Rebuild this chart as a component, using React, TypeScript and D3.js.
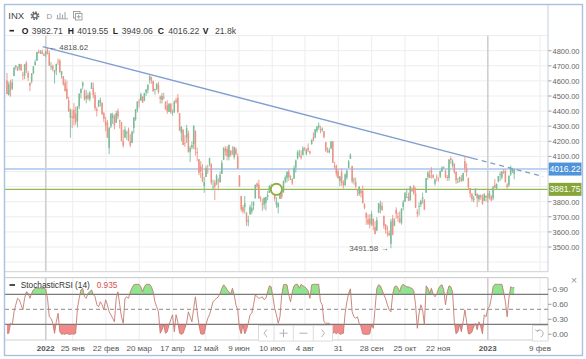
import React from "react";
import * as d3 from "d3";

// [date, open, high, low, close]
const candles: [string, number, number, number, number][] = [
  ["2021-12-01",4602.8,4652.9,4510.3,4513.04],["2021-12-02",4504.7,4595.5,4504.7,4577.10],["2021-12-03",4589.5,4608.0,4495.1,4538.43],
  ["2021-12-06",4548.4,4612.6,4540.5,4591.67],["2021-12-07",4631.97,4694.04,4631.97,4686.75],["2021-12-08",4690.86,4705.06,4674.52,4701.21],
  ["2021-12-09",4691.0,4695.26,4665.98,4667.45],["2021-12-10",4687.6,4713.6,4670.2,4712.02],["2021-12-13",4710.3,4710.3,4667.6,4668.97],
  ["2021-12-14",4642.0,4660.0,4606.5,4634.09],["2021-12-15",4636.5,4712.6,4611.2,4709.85],["2021-12-16",4719.1,4731.99,4651.9,4668.67],
  ["2021-12-17",4652.5,4666.7,4600.2,4620.64],["2021-12-20",4587.9,4587.9,4531.1,4568.02],["2021-12-21",4594.96,4651.14,4583.16,4649.23],
  ["2021-12-22",4650.36,4697.67,4645.53,4696.56],["2021-12-23",4703.96,4740.74,4703.96,4725.79],["2021-12-27",4733.99,4791.49,4733.99,4791.19],
  ["2021-12-28",4795.49,4807.02,4780.04,4786.35],["2021-12-29",4788.64,4804.06,4778.08,4793.06],["2021-12-30",4794.23,4808.93,4775.33,4778.73],
  ["2021-12-31",4775.21,4786.83,4765.75,4766.18],
  ["2022-01-03",4778.14,4796.64,4758.17,4796.56],["2022-01-04",4804.51,4818.62,4774.27,4793.54],["2022-01-05",4787.99,4797.70,4699.44,4700.58],
  ["2022-01-06",4693.39,4725.01,4671.26,4696.05],["2022-01-07",4697.66,4707.95,4662.74,4677.03],["2022-01-10",4655.34,4673.02,4582.24,4670.29],
  ["2022-01-11",4669.14,4714.13,4638.27,4713.07],["2022-01-12",4728.59,4748.83,4706.71,4726.35],["2022-01-13",4733.56,4744.13,4650.29,4659.03],
  ["2022-01-14",4637.99,4665.13,4614.75,4662.85],["2022-01-18",4632.24,4632.24,4568.70,4577.11],["2022-01-19",4588.03,4611.55,4530.20,4532.76],
  ["2022-01-20",4547.35,4602.11,4477.95,4482.73],["2022-01-21",4471.38,4494.52,4395.34,4397.94],["2022-01-24",4356.32,4417.35,4222.62,4410.13],
  ["2022-01-25",4366.64,4411.01,4287.11,4356.45],["2022-01-26",4408.43,4453.23,4304.80,4349.93],["2022-01-27",4380.58,4428.74,4309.50,4326.51],
  ["2022-01-28",4336.19,4432.72,4292.46,4431.85],["2022-01-31",4431.79,4516.89,4414.02,4515.55],
  ["2022-02-01",4519.57,4550.49,4483.53,4546.54],["2022-02-02",4566.39,4595.31,4544.32,4589.38],["2022-02-03",4535.41,4542.88,4470.39,4477.44],
  ["2022-02-04",4482.79,4539.66,4451.50,4500.53],["2022-02-07",4505.75,4521.86,4471.47,4483.87],["2022-02-08",4480.02,4531.32,4465.40,4521.54],
  ["2022-02-09",4547.00,4590.03,4547.00,4587.18],["2022-02-10",4553.24,4588.92,4484.31,4504.08],["2022-02-11",4506.27,4526.33,4401.41,4418.64],
  ["2022-02-14",4412.61,4426.22,4364.84,4401.67],["2022-02-15",4429.28,4472.77,4429.28,4471.07],["2022-02-16",4455.75,4489.55,4429.68,4475.01],
  ["2022-02-17",4456.06,4456.06,4373.81,4380.26],["2022-02-18",4384.57,4394.60,4327.22,4348.87],["2022-02-22",4332.74,4362.12,4267.11,4304.76],
  ["2022-02-23",4324.93,4341.51,4221.51,4225.50],["2022-02-24",4155.77,4294.73,4114.65,4288.70],["2022-02-25",4298.38,4385.34,4286.83,4384.65],
  ["2022-02-28",4354.17,4388.84,4315.12,4373.94],
  ["2022-03-01",4363.14,4378.45,4279.54,4306.26],["2022-03-02",4322.56,4401.48,4322.56,4386.54],["2022-03-03",4401.31,4416.78,4345.56,4363.49],
  ["2022-03-04",4342.12,4342.12,4284.98,4328.87],["2022-03-07",4327.01,4327.01,4199.85,4201.09],["2022-03-08",4202.66,4276.94,4157.87,4170.70],
  ["2022-03-09",4223.10,4299.40,4223.10,4277.88],["2022-03-10",4252.55,4268.28,4209.80,4259.52],["2022-03-11",4279.50,4291.01,4200.49,4204.31],
  ["2022-03-14",4202.75,4247.57,4161.72,4173.11],["2022-03-15",4188.82,4271.05,4187.90,4262.45],["2022-03-16",4288.14,4358.90,4251.99,4357.86],
  ["2022-03-17",4345.11,4412.67,4335.65,4411.67],["2022-03-18",4407.34,4465.40,4390.57,4463.12],["2022-03-21",4462.40,4481.75,4424.30,4461.18],
  ["2022-03-22",4469.10,4522.00,4469.10,4511.61],["2022-03-23",4493.10,4501.07,4455.81,4456.24],["2022-03-24",4469.98,4520.58,4465.17,4520.16],
  ["2022-03-25",4522.91,4546.03,4501.07,4543.06],["2022-03-28",4541.09,4575.65,4517.69,4575.52],["2022-03-29",4602.86,4637.30,4581.60,4631.60],
  ["2022-03-30",4624.20,4627.77,4581.32,4602.45],["2022-03-31",4599.02,4603.07,4530.41,4530.41],
  ["2022-04-01",4540.32,4548.70,4507.57,4545.86],["2022-04-04",4547.97,4583.50,4539.21,4582.64],["2022-04-05",4572.45,4593.45,4514.17,4525.12],
  ["2022-04-06",4494.17,4503.94,4450.04,4481.15],["2022-04-07",4474.65,4521.16,4450.30,4500.21],["2022-04-08",4494.15,4520.41,4474.60,4488.28],
  ["2022-04-11",4462.64,4464.35,4408.38,4412.53],["2022-04-12",4437.59,4471.00,4381.34,4397.45],["2022-04-13",4394.30,4453.92,4392.70,4446.59],
  ["2022-04-14",4449.12,4452.77,4381.14,4392.59],["2022-04-18",4385.63,4410.31,4370.30,4391.69],["2022-04-19",4390.63,4471.03,4390.63,4462.21],
  ["2022-04-20",4472.26,4488.29,4448.76,4459.45],["2022-04-21",4489.17,4512.94,4384.47,4393.66],["2022-04-22",4385.83,4385.83,4267.62,4271.78],
  ["2022-04-25",4255.34,4299.02,4200.82,4296.12],["2022-04-26",4278.14,4278.14,4175.04,4175.20],["2022-04-27",4186.52,4240.71,4162.90,4183.96],
  ["2022-04-28",4222.58,4308.45,4188.63,4287.50],["2022-04-29",4253.75,4269.68,4124.28,4131.93],
  ["2022-05-02",4130.61,4169.81,4062.51,4155.38],["2022-05-03",4159.78,4200.10,4147.08,4175.48],["2022-05-04",4181.18,4307.66,4148.91,4300.17],
  ["2022-05-05",4270.43,4270.43,4106.01,4146.87],["2022-05-06",4128.17,4157.69,4067.91,4123.34],["2022-05-09",4081.27,4081.27,3975.48,3991.24],
  ["2022-05-10",4035.18,4068.82,3958.17,4001.05],["2022-05-11",3990.08,4049.09,3928.82,3935.18],["2022-05-12",3903.95,3964.80,3858.87,3930.08],
  ["2022-05-13",3963.90,4038.88,3963.90,4023.89],["2022-05-16",4013.02,4046.46,3983.99,4008.01],["2022-05-17",4052.00,4090.72,4033.93,4088.85],
  ["2022-05-18",4051.98,4051.98,3911.91,3923.68],["2022-05-19",3899.00,3945.96,3876.58,3900.79],["2022-05-20",3927.76,3943.42,3810.32,3901.36],
  ["2022-05-23",3919.42,3981.88,3909.04,3973.75],["2022-05-24",3942.94,3955.68,3875.13,3941.48],["2022-05-25",3929.59,3999.33,3925.03,3978.73],
  ["2022-05-26",3984.60,4075.14,3984.60,4057.84],["2022-05-27",4077.43,4158.49,4077.43,4158.24],["2022-05-31",4151.09,4168.34,4104.88,4132.15],
  ["2022-06-01",4149.78,4166.54,4073.85,4101.23],["2022-06-02",4095.41,4177.51,4074.37,4176.82],["2022-06-03",4137.57,4142.67,4098.67,4108.54],
  ["2022-06-06",4134.72,4168.78,4109.18,4121.43],["2022-06-07",4096.47,4164.86,4080.19,4160.68],["2022-06-08",4147.12,4160.14,4107.20,4115.77],
  ["2022-06-09",4101.65,4119.10,4017.17,4017.82],["2022-06-10",3974.39,3974.39,3900.16,3900.86],["2022-06-13",3838.15,3838.15,3734.30,3749.63],
  ["2022-06-14",3763.52,3778.18,3722.30,3735.48],["2022-06-15",3764.05,3837.56,3722.30,3789.99],["2022-06-16",3728.18,3728.18,3639.77,3666.77],
  ["2022-06-17",3665.90,3707.71,3636.87,3674.84],["2022-06-21",3715.31,3779.65,3715.31,3764.79],["2022-06-22",3733.89,3801.79,3717.69,3759.89],
  ["2022-06-23",3774.71,3802.58,3743.52,3795.73],["2022-06-24",3821.75,3913.65,3821.75,3911.74],["2022-06-27",3920.76,3927.72,3889.66,3900.11],
  ["2022-06-28",3913.00,3945.86,3820.14,3821.55],["2022-06-29",3825.09,3836.50,3799.02,3818.83],["2022-06-30",3785.99,3818.99,3738.67,3785.38],
  ["2022-07-01",3781.00,3829.82,3752.10,3825.33],["2022-07-05",3792.61,3832.19,3742.06,3831.39],["2022-07-06",3831.98,3870.91,3809.37,3845.08],
  ["2022-07-07",3858.85,3910.63,3858.85,3902.62],["2022-07-08",3888.26,3918.50,3869.34,3899.38],["2022-07-11",3880.94,3880.94,3847.22,3854.43],
  ["2022-07-12",3851.95,3873.41,3802.36,3818.80],["2022-07-13",3779.67,3829.44,3759.07,3801.78],["2022-07-14",3763.99,3796.41,3721.56,3790.38],
  ["2022-07-15",3818.00,3863.62,3817.18,3863.16],["2022-07-18",3883.79,3902.44,3818.63,3830.85],["2022-07-19",3860.73,3939.81,3860.73,3936.69],
  ["2022-07-20",3935.32,3974.13,3922.03,3959.90],["2022-07-21",3955.47,3999.29,3927.64,3998.95],["2022-07-22",3998.43,4012.44,3938.85,3961.63],
  ["2022-07-25",3965.72,3975.30,3943.46,3966.84],["2022-07-26",3953.22,3953.22,3910.74,3921.05],["2022-07-27",3951.43,4039.56,3951.43,4023.61],
  ["2022-07-28",4026.13,4078.95,3992.97,4072.43],["2022-07-29",4087.33,4140.15,4079.22,4130.29],
  ["2022-08-01",4112.38,4144.95,4096.02,4118.63],["2022-08-02",4104.21,4140.47,4079.81,4091.19],["2022-08-03",4107.96,4167.66,4107.96,4155.17],
  ["2022-08-04",4154.85,4161.29,4135.42,4151.94],["2022-08-05",4115.87,4151.58,4107.31,4145.19],["2022-08-08",4155.93,4186.62,4128.97,4140.06],
  ["2022-08-09",4133.11,4137.30,4112.09,4122.47],["2022-08-10",4181.02,4211.03,4177.26,4210.24],["2022-08-11",4227.40,4257.91,4201.41,4207.27],
  ["2022-08-12",4225.02,4280.47,4219.78,4280.15],["2022-08-15",4269.37,4301.79,4256.90,4297.14],["2022-08-16",4290.46,4325.28,4277.77,4305.20],
  ["2022-08-17",4280.40,4302.18,4253.08,4274.04],["2022-08-18",4273.13,4292.53,4261.98,4283.74],["2022-08-19",4266.31,4266.31,4218.70,4228.48],
  ["2022-08-22",4195.08,4195.08,4129.86,4137.99],["2022-08-23",4133.09,4159.77,4124.03,4128.73],["2022-08-24",4126.55,4156.56,4119.97,4140.77],
  ["2022-08-25",4153.26,4200.54,4147.59,4199.12],["2022-08-26",4198.74,4203.04,4057.66,4057.66],["2022-08-29",4034.58,4062.99,4017.42,4030.61],
  ["2022-08-30",4041.25,4044.98,3965.21,3986.16],["2022-08-31",4000.67,4015.37,3954.53,3955.00],
  ["2022-09-01",3936.73,3970.23,3903.65,3966.85],["2022-09-02",3994.66,4018.43,3906.21,3924.26],["2022-09-06",3930.89,3942.55,3886.75,3908.19],
  ["2022-09-07",3909.43,3987.89,3906.03,3979.87],["2022-09-08",3959.94,4010.50,3944.81,4006.18],["2022-09-09",4022.94,4076.81,4022.94,4067.36],
  ["2022-09-12",4083.67,4119.28,4083.67,4110.41],["2022-09-13",4037.12,4037.12,3921.35,3932.69],["2022-09-14",3940.73,3961.94,3912.65,3946.01],
  ["2022-09-15",3932.41,3959.14,3888.28,3901.35],["2022-09-16",3880.95,3880.95,3837.08,3873.33],["2022-09-19",3849.91,3900.45,3838.50,3899.89],
  ["2022-09-20",3875.23,3876.01,3827.54,3855.93],["2022-09-21",3871.40,3907.07,3789.49,3789.93],["2022-09-22",3782.36,3790.68,3749.45,3757.99],
  ["2022-09-23",3727.14,3727.14,3647.47,3693.23],["2022-09-26",3682.72,3715.67,3644.76,3655.04],["2022-09-27",3686.44,3717.53,3623.29,3647.29],
  ["2022-09-28",3651.94,3736.74,3640.61,3719.04],["2022-09-29",3687.01,3687.01,3610.40,3640.47],["2022-09-30",3633.48,3671.44,3584.13,3585.62],
  ["2022-10-03",3609.78,3698.35,3604.93,3678.43],["2022-10-04",3726.46,3791.92,3726.46,3790.93],["2022-10-05",3753.25,3806.91,3722.66,3783.28],
  ["2022-10-06",3771.97,3797.93,3739.22,3744.52],["2022-10-07",3706.74,3706.74,3620.73,3639.66],["2022-10-10",3647.51,3652.17,3588.10,3612.39],
  ["2022-10-11",3595.86,3640.66,3568.45,3588.84],["2022-10-12",3590.83,3608.34,3573.86,3577.03],["2022-10-13",3520.37,3685.41,3491.58,3669.91],
  ["2022-10-14",3690.41,3712.00,3577.12,3583.07],["2022-10-17",3638.65,3689.73,3638.65,3677.95],["2022-10-18",3746.26,3762.79,3686.53,3719.98],
  ["2022-10-19",3703.11,3728.58,3666.51,3695.16],["2022-10-20",3689.05,3736.00,3656.44,3665.78],["2022-10-21",3657.10,3757.89,3647.42,3752.75],
  ["2022-10-24",3764.51,3810.73,3741.65,3797.34],["2022-10-25",3799.44,3862.85,3799.44,3859.11],["2022-10-26",3825.97,3886.15,3824.07,3830.60],
  ["2022-10-27",3834.69,3859.95,3803.79,3807.30],["2022-10-28",3808.26,3905.42,3808.26,3901.06],["2022-10-31",3881.85,3893.73,3863.18,3871.98],
  ["2022-11-01",3901.79,3911.79,3843.80,3856.10],["2022-11-02",3852.90,3894.44,3758.68,3759.69],["2022-11-03",3733.25,3750.59,3698.15,3719.89],
  ["2022-11-04",3766.98,3796.34,3708.84,3770.55],["2022-11-07",3780.71,3813.95,3764.70,3806.80],["2022-11-08",3817.02,3859.40,3786.28,3828.11],
  ["2022-11-09",3810.94,3818.20,3744.22,3748.57],["2022-11-10",3859.89,3958.33,3859.89,3956.37],["2022-11-11",3963.72,4001.48,3944.82,3992.93],
  ["2022-11-14",3977.97,4008.97,3956.40,3957.25],["2022-11-15",4006.41,4028.84,3953.17,3991.73],["2022-11-16",3976.82,3983.09,3954.34,3958.79],
  ["2022-11-17",3919.26,3954.33,3906.54,3946.56],["2022-11-18",3966.39,3979.89,3935.98,3965.34],["2022-11-21",3956.23,3962.00,3933.34,3949.94],
  ["2022-11-22",3965.51,4005.88,3956.88,4003.58],["2022-11-23",4000.30,4033.78,3998.66,4027.26],["2022-11-25",4023.34,4034.02,4020.76,4026.12],
  ["2022-11-28",4005.36,4012.27,3955.77,3963.94],["2022-11-29",3964.19,3976.77,3937.65,3957.63],["2022-11-30",3957.18,4080.11,3938.58,4080.11],
  ["2022-12-01",4087.14,4100.51,4050.87,4076.57],["2022-12-02",4040.17,4080.48,4026.63,4071.70],["2022-12-05",4052.02,4052.45,3984.49,3998.84],
  ["2022-12-06",3996.63,4001.51,3918.39,3941.26],["2022-12-07",3933.28,3957.57,3922.68,3933.92],["2022-12-08",3947.79,3966.66,3928.26,3963.51],
  ["2022-12-09",3954.17,3977.02,3933.04,3934.38],["2022-12-12",3939.29,3990.71,3935.30,3990.56],["2022-12-13",4069.38,4100.96,3993.03,4019.65],
  ["2022-12-14",4015.54,4053.76,3965.65,3995.32],["2022-12-15",3958.37,3958.37,3879.45,3895.75],["2022-12-16",3890.91,3890.91,3827.91,3852.36],
  ["2022-12-19",3853.79,3854.86,3800.04,3817.66],["2022-12-20",3810.47,3838.24,3795.62,3821.62],["2022-12-21",3839.49,3889.82,3839.49,3878.44],
  ["2022-12-22",3853.26,3853.26,3764.49,3822.39],["2022-12-23",3815.11,3845.80,3797.01,3844.82],["2022-12-27",3843.34,3846.65,3813.22,3829.25],
  ["2022-12-28",3829.56,3848.32,3780.78,3783.22],["2022-12-29",3805.45,3858.19,3805.45,3849.28],["2022-12-30",3829.06,3839.85,3800.34,3839.50],
  ["2023-01-03",3853.29,3878.46,3794.33,3824.14],["2023-01-04",3840.36,3873.16,3815.77,3852.97],["2023-01-05",3839.74,3839.74,3802.42,3808.10],
  ["2023-01-06",3823.37,3906.19,3809.56,3895.08],["2023-01-09",3910.82,3950.57,3890.42,3892.09],["2023-01-10",3888.57,3919.83,3877.29,3919.25],
  ["2023-01-11",3932.35,3970.07,3928.54,3969.61],["2023-01-12",3977.57,3997.76,3937.56,3983.17],["2023-01-13",3960.60,4003.95,3947.67,3999.09],
  ["2023-01-17",3999.28,4015.39,3984.57,3990.97],["2023-01-18",4002.25,4014.16,3926.59,3928.86],["2023-01-19",3911.84,3922.94,3885.54,3898.85],
  ["2023-01-20",3909.04,3972.96,3897.86,3972.61],["2023-01-23",3978.14,4039.31,3971.64,4019.81],["2023-01-24",4001.74,4023.92,3989.79,4016.95],
  ["2023-01-25",3982.71,4019.55,3949.06,4016.22],
];

// StochasticRSI (14), one value per candle
const stochRsi: number[] = [
  0.02,0.02,0.22,0.19,0.45,0.59,0.72,0.69,0.59,0.49,
  0.72,0.85,0.82,0.72,0.82,0.89,0.92,0.93,0.92,0.93,
  0.92,0.92,0.89,0.72,0.35,0.32,0.22,0.02,0.25,0.42,
  0.05,0,0.01,0,0.02,0,0,0.01,0,0.02,
  0.52,0.72,0.89,0.92,0.75,0.72,0.82,0.85,0.89,0.8,
  0.75,0.59,0.55,0.65,0.59,0.49,0.69,0.59,0.45,0.39,
  0.32,0.25,0.72,0.85,0.59,0.35,0.22,0.72,0.75,0.72,
  0.85,0.93,0.99,1,1,1,0.95,0.85,0.95,1,
  1,1,0.95,0.85,0.65,0.55,0.45,0.02,0.09,0.19,
  0.02,0.05,0.19,0.29,0.39,0.05,0.39,0.25,0.02,0,
  0.02,0.12,0.22,0.45,0.35,0.25,0.52,0.75,0.45,0.19,
  0.01,0,0.01,0.19,0.32,0.39,0.52,0.65,0.69,0.72,
  0.75,0.82,0.92,0.99,0.95,0.89,0.85,0.8,0.92,0.79,
  0.59,0.49,0.12,0.01,0.19,0.01,0.09,0.22,0.39,0.42,
  0.59,0.79,0.75,0.72,0.73,0.75,0.69,0.72,0.85,0.97,
  0.95,0.75,0.52,0.39,0.22,0.35,0.79,0.99,1,0.99,
  0.79,0.65,0.85,0.97,1,1,0.92,1,0.97,0.95,
  0.92,0.87,0.72,0.99,1,1,1,1,0.65,0.59,
  0.25,0.22,0.22,0.22,0.19,0.02,0.04,0.01,0.04,0,
  0.01,0.02,0.42,0.65,0.82,0.91,0.45,0.35,0.32,0.35,
  0.22,0.15,0.01,0,0,0,0.01,0.19,0.12,0.52,
  0.92,0.99,0.97,0.89,0.79,0.71,0.59,0.49,0.45,0.8,
  0.95,0.97,0.93,0.85,0.97,1,0.97,0.95,0.95,0.93,
  0.92,0.87,0.59,0.12,0.42,0.59,0.49,0.19,0.97,0.92,
  0.82,0.92,0.8,0.75,0.8,0.91,0.97,0.99,0.89,0.59,
  0.85,0.97,0.95,0.85,0.25,0.01,0.05,0.19,0.05,0.25,
  0.49,0.25,0.01,0.01,0.05,0.15,0.22,0.09,0.25,0.15,
  0.01,0.39,0.35,0.52,0.55,0.72,0.95,1,1,1,
  1,1,0.85,0.65,0.35,0.72,0.95,0.93,0.935,
];

const priceLabels = [3500, 3600, 3700, 3800, 4100, 4200, 4300, 4400, 4500, 4600, 4700, 4800];
const priceGrid = [3400, 3500, 3600, 3700, 3800, 3900, 4000, 4100, 4200, 4300, 4400, 4500, 4600, 4700, 4800, 4900];
const xTickPos = [22, 37.3, 56.2, 75.1, 94.0, 112.8, 131.7, 150.6, 169.2, 188.1, 207.1, 226, 244.9, 273, 302.7];
const xTickLabels = ["2022", "25 янв", "22 фев", "20 мар", "17 апр", "12 май", "9 июн", "10 июл", "4 авг", "31", "28 сен", "25 окт", "22 ноя", "2023", "9 фев"];
const yearTicks = [22, 273];
const stochLabels = [0.9, 0.6, 0.3, 0.0];
const stochUpper = 0.8, stochMid = 0.5, stochLower = 0.2;
const lastValue = "0.935";
const volumeLabel = "21.8k";
const supportLevel = 3881.75;
const highMark = { i: 23, p: 4818.62 };
const lowMark = { i: 218, p: 3491.58 };
const trendA = { i: 23, p: 4818.62 };
const trendB = { i: 260, p: 4100.96 };
const trendStart = 20.3, trendSolidEnd = 264.6, trendEnd = 304.4;
const markerIdx = 153;

const GREEN = "#7dbb98";
const RED = "#ec9486";
const FONT = "Liberation Sans, Arial, sans-serif";

export default function App() {
  const x = d3.scaleLinear().domain([-1.136, 307.2]).range([5, 548]);
  const y = d3.scaleLinear().domain([3500, 4800]).range([247, 50.7]);
  const ys = d3.scaleLinear().domain([0, 1]).range([334.3, 284.3]);
  const PL = 5, PR = 548, MT = 35.6, MB = 271.7, ST = 277.7, SB = 340;

  const last = candles[candles.length - 1];
  const lastClose = last[4];

  const trendP = (i: number) => trendA.p + (trendB.p - trendA.p) * (i - trendA.i) / (trendB.i - trendA.i);

  const line = d3.line<number>().x((_, i) => x(i)).y((v) => ys(v));
  const areaUp = d3.area<number>().x((_, i) => x(i)).y0(ys(stochUpper)).y1((v) => ys(v));
  const areaDn = d3.area<number>().x((_, i) => x(i)).y0(ys(stochLower)).y1((v) => ys(v));

  const hdr = [
    { t: "O", x: 21.7, b: true }, { t: last[1].toFixed(2), x: 31.7 },
    { t: "H", x: 67.7, b: true }, { t: last[2].toFixed(2), x: 77.3 },
    { t: "L", x: 112.7, b: true }, { t: last[3].toFixed(2), x: 121.7 },
    { t: "C", x: 157.7, b: true }, { t: last[4].toFixed(2), x: 168.3 },
    { t: "V", x: 202.7, b: true }, { t: volumeLabel, x: 215 },
  ];

  return (
    <svg width={586} height={359} style={{ position: "absolute", left: 0, top: 0, background: "#fff" }} fontFamily={FONT}>
      <defs>
        <clipPath id="mainClip"><rect x={PL} y={MT} width={PR - PL} height={MB - MT} /></clipPath>
        <clipPath id="upClip"><rect x={PL} y={ST} width={PR - PL} height={ys(stochUpper) - ST} /></clipPath>
        <clipPath id="dnClip"><rect x={PL} y={ys(stochLower)} width={PR - PL} height={SB - ys(stochLower)} /></clipPath>
      </defs>
      <rect x={0} y={0} width={586} height={359} fill="#fff" />

      {/* header */}
      <text x={8.3} y={19} fontSize={9.5} fill="#444">INX</text>
      <g transform="translate(35,15.7)">
        <circle r={2.2} fill="none" stroke="#666" strokeWidth={1.4} />
        <circle r={3.6} fill="none" stroke="#666" strokeWidth={1.6} strokeDasharray="1.6,1.2" />
      </g>
      <text x={46.5} y={18.8} fontSize={8} fill="#999">D</text>
      <g stroke="#aaa" strokeWidth={1.1}>
        <line x1={57.5} x2={57.5} y1={18.5} y2={15} />
        <line x1={60} x2={60} y1={18.5} y2={13} />
        <line x1={62.5} x2={62.5} y1={18.5} y2={14.5} />
        <line x1={65} x2={65} y1={18.5} y2={12} />
        <line x1={56.5} x2={68} y1={18.8} y2={18.8} />
      </g>
      <g fill="none" stroke="#999" strokeWidth={0.9}>
        <rect x={73.5} y={11.5} width={6.5} height={6.5} />
        <rect x={75.5} y={13.5} width={6.5} height={6.5} fill="#fff" />
        <line x1={78.75} x2={78.75} y1={14.8} y2={18.7} />
        <line x1={76.8} x2={80.7} y1={16.75} y2={16.75} />
      </g>
      <line x1={9.5} x2={14} y1={30.7} y2={30.7} stroke="#222" strokeWidth={1.6} />
      {hdr.map((h, i) => (
        <text key={i} x={h.x} y={34} fontSize={8.6} fill={h.b ? "#222" : "#444"} fontWeight={h.b ? 700 : 400}>{h.t}</text>
      ))}

      {/* main panel grid */}
      <g stroke="#ededed" strokeWidth={1}>
        {priceGrid.map((p) => <line key={p} x1={PL} x2={PR} y1={y(p)} y2={y(p)} />)}
        {xTickPos.map((t) => <line key={"v" + t} x1={x(t)} x2={x(t)} y1={MT} y2={MB} />)}
        {xTickPos.map((t) => <line key={"s" + t} x1={x(t)} x2={x(t)} y1={ST} y2={SB} />)}
      </g>
      <g stroke="#cfcfcf" strokeWidth={1.6}>
        {yearTicks.map((t) => <line key={t} x1={x(t)} x2={x(t)} y1={MT} y2={MB} />)}
        {yearTicks.map((t) => <line key={"s" + t} x1={x(t)} x2={x(t)} y1={ST} y2={SB} />)}
      </g>

      {/* level lines */}
      <line x1={PL} x2={PR} y1={y(lastClose)} y2={y(lastClose)} stroke="#bcd4f2" strokeWidth={2} />
      <line x1={PL} x2={PR} y1={y(supportLevel)} y2={y(supportLevel)} stroke="#92bb55" strokeWidth={1.3} />

      {/* candles */}
      <g clipPath="url(#mainClip)">
        {candles.map((c, i) => {
          const [, o, h, l, cl] = c;
          const col = cl >= o ? GREEN : RED;
          const cx = x(i);
          const top = y(Math.max(o, cl));
          const bot = y(Math.min(o, cl));
          return (
            <g key={i}>
              <line x1={cx} x2={cx} y1={y(h)} y2={y(l)} stroke={col} strokeWidth={0.9} />
              <rect x={cx - 0.75} y={top} width={1.5} height={Math.max(0.8, bot - top)} fill={col} />
            </g>
          );
        })}
        {/* trend line */}
        <line x1={x(trendStart)} y1={y(trendP(trendStart))} x2={x(trendSolidEnd)} y2={y(trendP(trendSolidEnd))} stroke="#7f9fd0" strokeWidth={1.4} />
        <line x1={x(trendSolidEnd)} y1={y(trendP(trendSolidEnd))} x2={x(trendEnd)} y2={y(trendP(trendEnd))} stroke="#7f9fd0" strokeWidth={1.4} strokeDasharray="5,4" />
      </g>
      <circle cx={x(markerIdx)} cy={y(supportLevel)} r={5.6} fill="#fff" stroke="#8fae3a" strokeWidth={1.8} />
      <text x={x(highMark.i) + 1.5} y={y(highMark.p) + 2.6} fontSize={8} fill="#555">{"← " + highMark.p.toFixed(2)}</text>
      <text x={x(lowMark.i) - 2.5} y={y(lowMark.p) + 2.6} fontSize={8} fill="#555" textAnchor="end">{lowMark.p.toFixed(2) + " →"}</text>

      {/* price axis */}
      <g fontSize={8} fill="#666">
        {priceLabels.map((p) => (
          <g key={p}>
            <line x1={548} x2={551.5} y1={y(p)} y2={y(p)} stroke="#888" strokeWidth={0.8} />
            <text x={552.5} y={y(p) + 2.8} textLength={27} lengthAdjust="spacingAndGlyphs">{p.toFixed(2)}</text>
          </g>
        ))}
      </g>
      <rect x={548.5} y={y(lastClose) - 6.5} width={33} height={13} fill="#4f93db" />
      <text x={565} y={y(lastClose) + 3} fontSize={8.6} fill="#fff" textAnchor="middle">{lastClose.toFixed(2)}</text>
      <rect x={548.5} y={y(supportLevel) - 6.5} width={33} height={13} fill="#86a63a" />
      <text x={565} y={y(supportLevel) + 3} fontSize={8.6} fill="#fff" textAnchor="middle">{supportLevel.toFixed(2)}</text>

      {/* main panel borders */}
      <line x1={PL} x2={PR} y1={MB} y2={MB} stroke="#d0d0d0" strokeWidth={1} />
      <line x1={PR} x2={PR} y1={5} y2={MB} stroke="#c5d0dc" strokeWidth={1} />

      {/* stochastic panel */}
      <line x1={PL} x2={PR} y1={ST} y2={ST} stroke="#c8c8c8" strokeWidth={1} />
      <line x1={PR} x2={PR} y1={ST} y2={SB} stroke="#c8c8c8" strokeWidth={1} />
      <line x1={PL} x2={PR} y1={SB} y2={SB} stroke="#d0d0d0" strokeWidth={1} />
      <path d={areaUp(stochRsi) || ""} fill="#8fe48f" clipPath="url(#upClip)" />
      <path d={areaDn(stochRsi) || ""} fill="#f28a8a" clipPath="url(#dnClip)" />
      <line x1={PL} x2={PR} y1={ys(stochUpper)} y2={ys(stochUpper)} stroke="#7a7a7a" strokeWidth={1.2} />
      <line x1={PL} x2={PR} y1={ys(stochLower)} y2={ys(stochLower)} stroke="#7a7a7a" strokeWidth={1.2} />
      <line x1={PL} x2={PR} y1={ys(stochMid)} y2={ys(stochMid)} stroke="#8a8a8a" strokeWidth={1} strokeDasharray="4,3" />
      <path d={line(stochRsi) || ""} fill="none" stroke="#c47a70" strokeWidth={0.9} />

      <line x1={9.5} x2={15} y1={285} y2={285} stroke="#222" strokeWidth={1.6} />
      <text x={20.7} y={288} fontSize={8.3} fill="#333">StochasticRSI (14)</text>
      <text x={96.7} y={288} fontSize={8.3} fill="#d0554d">{lastValue}</text>

      <g fontSize={8} fill="#666">
        {stochLabels.map((v) => (
          <g key={v}>
            <line x1={548} x2={551.5} y1={ys(v)} y2={ys(v)} stroke="#888" strokeWidth={0.8} />
            <text x={552.5} y={ys(v) + 2.8}>{v.toFixed(2)}</text>
          </g>
        ))}
      </g>
      <text x={574} y={284} fontSize={11} fill="#999" textAnchor="middle">×</text>

      {/* navigation buttons */}
      <g>
        <rect x={258.5} y={325.5} width={74} height={15.5} fill="#fff" stroke="#dcdcdc" />
        {[274, 293.3, 313.3].map((d) => <line key={d} x1={d} x2={d} y1={325.5} y2={341} stroke="#dcdcdc" />)}
        <g stroke="#b0b0b0" strokeWidth={1} fill="none">
          <polyline points="267,329.5 264,333.2 267,337" />
          <line x1={279.5} x2={287.5} y1={333.2} y2={333.2} />
          <line x1={283.5} x2={283.5} y1={329.2} y2={337.2} />
          <line x1={299.5} x2={307.5} y1={333.2} y2={333.2} />
          <polyline points="321.5,329.5 324.5,333.2 321.5,337" />
        </g>
        <rect x={532.5} y={325.5} width={15.5} height={15.5} fill="#fff" stroke="#dcdcdc" />
        <path d="M 537 331 A 3.6 3.6 0 1 1 540.5 337" fill="none" stroke="#b0b0b0" strokeWidth={1} />
        <polyline points="535.5,329.5 537,331.5 539.3,330.2" fill="none" stroke="#b0b0b0" strokeWidth={1} />
      </g>

      {/* date axis */}
      <g fontSize={8} fill="#555" textAnchor="middle">
        {xTickPos.map((t, i) => (
          <text key={t} x={x(t)} y={351} fontWeight={yearTicks.includes(t) ? 700 : 400}>{xTickLabels[i]}</text>
        ))}
      </g>

      {/* outer frame */}
      <rect x={4.5} y={4.5} width={578} height={351} fill="none" stroke="#a9c0de" strokeWidth={1.4} />
    </svg>
  );
}
